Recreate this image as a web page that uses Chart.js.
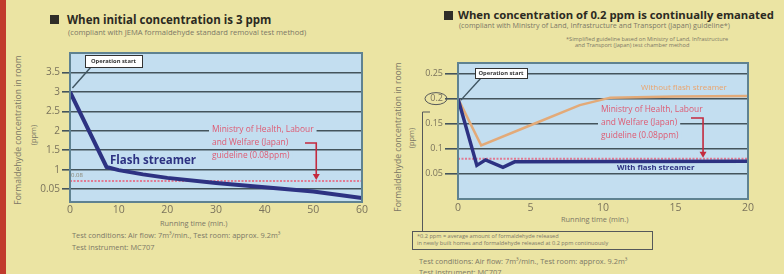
<!DOCTYPE html>
<html lang="en">
<head>
<meta charset="UTF-8">
<title>Formaldehyde removal</title>
<script src="https://cdn.jsdelivr.net/npm/chart.js"></script>
<style>
    body {
        margin: 0;
        width: 784px;
        height: 274px;
        overflow: hidden;
        position: relative;
        background: #ebe4a3;
        font-family: "Open Sans", "DejaVu Sans", sans-serif;
    }
    .strip { position: absolute; left: 0; top: 0; width: 6px; height: 274px; background: #c13b2d; }
    canvas { position: absolute; left: 0; top: 0; }
    .t { position: absolute; white-space: nowrap; line-height: 1; }
    .title { font-weight: 700; font-size: 11.5px; color: #2b2a22; }
    .sq { position: absolute; width: 9px; height: 9px; background: #2f2d28; }
    .sub { font-size: 7.6px; color: #7c7866; }
    .note { font-size: 5.6px; color: #7c7866; }
    .small { font-size: 7.4px; color: #7c7866; }
    .rot { transform: translate(-50%, -50%) rotate(-90deg); }
</style>
</head>
<body>
<div class="strip"></div>

<div class="sq" style="left:50px;top:15px"></div>
<div class="t title" style="left:67px;top:14px">When initial concentration is 3 ppm</div>
<div class="t sub" style="left:68px;top:29px">(compliant with JEMA formaldehyde standard removal test method)</div>

<div class="sq" style="left:444px;top:11px"></div>
<div class="t title" style="left:458px;top:9px;font-size:11.3px">When concentration of 0.2 ppm is continually emanated</div>
<div class="t sub" style="left:459px;top:22px;font-size:7.2px">(compliant with Ministry of Land, Infrastructure and Transport (Japan) guideline*)</div>
<div class="t note" style="left:566px;top:37px">*Simplified guideline based on Ministry of Land, Infrastructure</div>
<div class="t note" style="left:575px;top:43px">and Transport (Japan) test chamber method</div>

<div class="t small rot" style="left:18px;top:130px;font-size:8.6px">Formaldehyde concentration in room</div>
<div class="t small rot" style="left:34px;top:135px">(ppm)</div>
<div class="t small rot" style="left:398px;top:137px;font-size:8.6px">Formaldehyde concentration in room</div>
<div class="t small rot" style="left:412px;top:138px">(ppm)</div>

<div class="t small" style="left:160px;top:220px">Running time (min.)</div>
<div class="t small" style="left:72px;top:232px">Test conditions: Air flow: 7m³/min., Test room: approx. 9.2m³</div>
<div class="t small" style="left:72px;top:244px">Test instrument: MC707</div>

<div class="t small" style="left:561px;top:216px">Running time (min.)</div>
<div class="t note" style="left:417px;top:234px">*0.2 ppm = average amount of formaldehyde released</div>
<div class="t note" style="left:417px;top:241px">in newly built homes and formaldehyde released at 0.2 ppm continuously</div>
<div class="t small" style="left:419px;top:258px">Test conditions: Air flow: 7m³/min., Test room: approx. 9.2m³</div>
<div class="t small" style="left:419px;top:269px">Test instrument: MC707</div>

<canvas id="chartL" width="784" height="274"></canvas>
<canvas id="chartR" width="784" height="274"></canvas>

<script>
    // left panel: initial concentration 3 ppm
    const leftTime = [0, 7.5, 10, 15, 20, 30, 40, 50, 60];
    const leftFlash = [3.0, 1.07, 0.99, 0.88, 0.79, 0.66, 0.55, 0.44, 0.27];
    const leftGuide = [0.71, 0.71];
    const leftGuideTime = [0, 60];
    const leftXTicks = [0, 10, 20, 30, 40, 50, 60];
    const leftYTicks = [0.5, 1, 1.5, 2, 2.5, 3, 3.5];
    const leftYLabels = ['0.05', '1', '1.5', '2', '2.5', '3', '3.5'];

    // right panel: 0.2 ppm continually emanated
    const rightTimeWith = [0, 1.3, 1.9, 3.1, 3.9, 20];
    const rightWith = [0.2, 0.067, 0.078, 0.063, 0.074, 0.075];
    const rightTimeWithout = [0, 1.6, 5, 8.4, 10.5, 15, 20];
    const rightWithout = [0.2, 0.107, 0.147, 0.187, 0.202, 0.204, 0.205];
    const rightGuide = [0.08, 0.08];
    const rightGuideTime = [0, 20];
    const rightXTicks = [0, 5, 10, 15, 20];
    const rightYTicks = [0.05, 0.1, 0.15, 0.2, 0.25];
    const rightYLabels = ['0.05', '0.1', '0.15', '0.2', '0.25'];

    const FONT = '"Open Sans", "DejaVu Sans", sans-serif';
    const plotBg = '#c3def0';
    const gridColor = '#44545c';
    const frameColor = '#5f8291';
    const navy = '#2d3282';
    const tan = '#e3aa78';
    const tickColor = '#7a735c';

    const pts = (xs, ys) => xs.map((x, i) => ({ x: x, y: ys[i] }));

    function textLines(ctx, lines, x, y0, step, color, mask) {
        ctx.textAlign = 'left';
        ctx.textBaseline = 'middle';
        lines.forEach((s, i) => {
            const y = y0 + i * step;
            if (mask) {
                const w = ctx.measureText(s).width;
                ctx.fillStyle = plotBg;
                ctx.fillRect(x - 3, y - 5, w + 6, 10);
            }
            ctx.fillStyle = color;
            ctx.fillText(s, x, y);
        });
    }

    function arrow(ctx, x1, y, x, tipY) {
        ctx.strokeStyle = '#c42a3e';
        ctx.lineWidth = 1.6;
        ctx.beginPath();
        ctx.moveTo(x1, y);
        ctx.lineTo(x, y);
        ctx.lineTo(x, tipY - 5);
        ctx.stroke();
        ctx.fillStyle = '#c42a3e';
        ctx.beginPath();
        ctx.moveTo(x - 3.5, tipY - 6);
        ctx.lineTo(x + 3.5, tipY - 6);
        ctx.lineTo(x, tipY);
        ctx.closePath();
        ctx.fill();
    }

    function opBox(ctx, x, y, w, h, px, py) {
        ctx.strokeStyle = '#3f5460';
        ctx.lineWidth = 1.4;
        ctx.beginPath();
        ctx.moveTo(x + 6, y + h);
        ctx.lineTo(px, py);
        ctx.stroke();
        ctx.fillStyle = '#ffffff';
        ctx.fillRect(x, y, w, h);
        ctx.lineWidth = 1;
        ctx.strokeStyle = '#333';
        ctx.strokeRect(x + 0.5, y + 0.5, w, h);
        ctx.fillStyle = '#333';
        ctx.font = 'bold 5.8px ' + FONT;
        ctx.textAlign = 'center';
        ctx.textBaseline = 'middle';
        ctx.fillText('Operation start', x + w / 2, y + h / 2 + 0.5);
    }

    const panelDecor = {
        id: 'panelDecor',
        beforeDraw(chart) {
            const a = chart.chartArea, ctx = chart.ctx;
            ctx.save();
            ctx.fillStyle = plotBg;
            ctx.fillRect(a.left, a.top, a.right - a.left, a.bottom - a.top);
            ctx.restore();
        },
        afterDraw(chart) {
            const a = chart.chartArea, ctx = chart.ctx;
            const xs = chart.scales.x, ys = chart.scales.y;
            const kind = chart.options.plugins.panelDecor.kind;
            ctx.save();
            ctx.strokeStyle = frameColor;
            ctx.lineWidth = 2;
            ctx.strokeRect(a.left, a.top, a.right - a.left, a.bottom - a.top);

            if (kind === 'left') {
                ctx.font = '8.4px ' + FONT;
                textLines(ctx, ['Ministry of Health, Labour', 'and Welfare (Japan)', 'guideline (0.08ppm)'],
                    212, 130, 13, '#de5a72', true);
                arrow(ctx, 305, 143, xs.getPixelForValue(50.6), ys.getPixelForValue(leftGuide[0]) - 1);
                ctx.font = 'bold 11.5px ' + FONT;
                ctx.fillStyle = navy;
                ctx.textAlign = 'left';
                ctx.textBaseline = 'middle';
                ctx.fillText('Flash streamer', 110, 161);
                ctx.font = '6px ' + FONT;
                ctx.fillStyle = '#8a8470';
                ctx.fillText('0.08', 71, 175);
                opBox(ctx, 85, 55, 57, 12, xs.getPixelForValue(0.5), ys.getPixelForValue(3.1));
            } else {
                ctx.font = '8.4px ' + FONT;
                textLines(ctx, ['Ministry of Health, Labour', 'and Welfare (Japan)', 'guideline (0.08ppm)'],
                    601, 110, 13, '#de5a72', true);
                arrow(ctx, 691, 118, xs.getPixelForValue(16.9), ys.getPixelForValue(rightGuide[0]) - 1);
                ctx.font = '8px ' + FONT;
                ctx.fillStyle = '#eba46c';
                ctx.textAlign = 'left';
                ctx.textBaseline = 'middle';
                ctx.fillText('Without flash streamer', 641, 88);
                ctx.font = 'bold 7.8px ' + FONT;
                ctx.fillStyle = navy;
                ctx.fillText('With flash streamer', 617, 168);
                opBox(ctx, 475, 68, 52, 10, xs.getPixelForValue(0.2), ys.getPixelForValue(0.197));
                // circle around the 0.2 tick label and bracket to the note box
                ctx.strokeStyle = '#55585a';
                ctx.lineWidth = 1;
                ctx.beginPath();
                ctx.ellipse(436, ys.getPixelForValue(0.2), 11, 6, 0, 0, Math.PI * 2);
                ctx.stroke();
                ctx.beginPath();
                ctx.moveTo(430, 112);
                ctx.lineTo(422.5, 112);
                ctx.lineTo(422.5, 231);
                ctx.stroke();
                ctx.strokeRect(412.5, 231.5, 240, 18);
            }
            ctx.restore();
        }
    };

    function axisX(ticksArr, min, max, pad) {
        return {
            type: 'linear', min: min, max: max,
            afterBuildTicks: s => { s.ticks = ticksArr.map(v => ({ value: v })); },
            ticks: { color: tickColor, font: { family: FONT, size: 10.5 }, padding: pad, maxRotation: 0 },
            grid: { display: false, drawTicks: false },
            border: { display: false },
            afterFit: s => { s.height = 24; }
        };
    }

    function axisY(ticksArr, labels, min, max, tl, size, w) {
        return {
            min: min, max: max,
            afterBuildTicks: s => { s.ticks = ticksArr.map(v => ({ value: v })); },
            ticks: {
                color: tickColor, font: { family: FONT, size: size }, padding: 2,
                callback: v => labels[ticksArr.indexOf(v)]
            },
            grid: { color: gridColor, lineWidth: 1.6, tickLength: tl, drawTicks: true },
            border: { display: false },
            afterFit: s => { s.width = w; }
        };
    }

    new Chart(document.getElementById('chartL').getContext('2d'), {
        type: 'line',
        data: {
            datasets: [
                { data: pts(leftTime, leftFlash), borderColor: navy, borderWidth: 4, pointRadius: 0, tension: 0 },
                { data: pts(leftGuideTime, leftGuide), borderColor: '#e27a92', borderWidth: 2, borderDash: [2, 1.5], pointRadius: 0 }
            ]
        },
        options: {
            responsive: false, animation: false, events: [],
            layout: { padding: { left: 0, top: 53, right: 422, bottom: 48 } },
            plugins: { legend: { display: false }, tooltip: { enabled: false }, panelDecor: { kind: 'left' } },
            scales: {
                x: axisX(leftXTicks, 0, 60, 2),
                y: axisY(leftYTicks, leftYLabels, 0.17, 4.0, 8, 10, 70)
            }
        },
        plugins: [panelDecor]
    });

    new Chart(document.getElementById('chartR').getContext('2d'), {
        type: 'line',
        data: {
            datasets: [
                { data: pts(rightTimeWith, rightWith), borderColor: navy, borderWidth: 3.5, pointRadius: 0, tension: 0 },
                { data: pts(rightTimeWithout, rightWithout), borderColor: tan, borderWidth: 2.5, pointRadius: 0, tension: 0 },
                { data: pts(rightGuideTime, rightGuide), borderColor: '#e27a92', borderWidth: 2, borderDash: [2, 1.5], pointRadius: 0 }
            ]
        },
        options: {
            responsive: false, animation: false, events: [],
            layout: { padding: { left: 418, top: 63, right: 36, bottom: 51 } },
            plugins: { legend: { display: false }, tooltip: { enabled: false }, panelDecor: { kind: 'right' } },
            scales: {
                x: axisX(rightXTicks, 0, 20, 3),
                y: axisY(rightYTicks, rightYLabels, 0, 0.271, 13, 9, 40)
            }
        },
        plugins: [panelDecor]
    });
</script>
</body>
</html>
